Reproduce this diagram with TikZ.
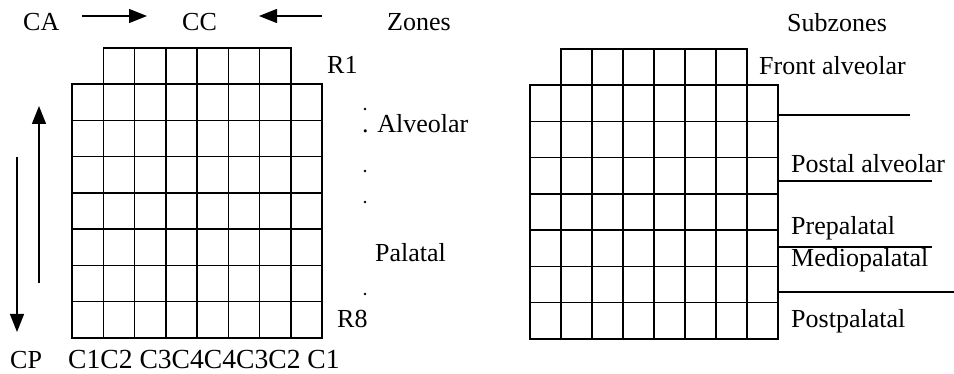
\documentclass[tikz,border=0pt]{standalone}
\usepackage{fontspec}
\setmainfont{Liberation Serif}
\usetikzlibrary{arrows.meta, positioning}

\begin{document}
\begin{tikzpicture}[
  x=1pt, y=-1pt,
  >={Triangle[length=18pt,width=14pt]},
  lbl/.style={font=\fontsize{26}{30}\selectfont, inner sep=0pt, anchor=base west},
  cell/.style={draw, line width=1.5pt},
  arr/.style={->, line width=1.4pt},
  zline/.style={draw, line width=1.5pt}
  ]
  \useasboundingbox (0,0) rectangle (954,374);
  % left grid
  \foreach \c in {1,...,6}
    \draw[cell] ({72+\c*31.25},48) rectangle ++(31.25,36.25);
  \foreach \r in {1,...,7}
    \foreach \c in {0,...,7}
      \draw[cell] ({72+\c*31.25},{48+\r*36.25}) rectangle ++(31.25,36.25);
  % right grid
  \foreach \c in {1,...,6}
    \draw[cell] ({530+\c*31},49) rectangle ++(31,36.25);
  \foreach \r in {1,...,7}
    \foreach \c in {0,...,7}
      \draw[cell] ({530+\c*31},{49+\r*36.25}) rectangle ++(31,36.25);
  % zones
  \node[lbl] (ca) at (23,31) {CA};
  \node[lbl] (cc) at (182,31) {CC};
  \node[lbl] (zones) at (387,31) {Zones};
  \node[lbl] (r1) at (327,74) {R1};
  \node[lbl] (alv) at (362,133) {. Alveolar};
  \node[lbl] (pal) at (375,262) {Palatal};
  \node[lbl] (r8) at (337,327) {R8};
  \node[lbl] (cp) at (10,368) {CP};
  \node[lbl, font=\fontsize{27.6}{32}\selectfont] (cols) at (68,368) {C1C2 C3C4C4C3C2 C1};
  \coordinate (d1) at (365,109);
  \coordinate (d2) at (365,171);
  \coordinate (d3) at (365,202);
  \coordinate (d4) at (365,294);
  \foreach \d in {d1,d2,d3,d4}
    \fill (\d) circle (1.4pt);
  \coordinate (caA) at (82,16);
  \coordinate (caB) at (147,16);
  \coordinate (ccA) at (322,16);
  \coordinate (ccB) at (259,16);
  \coordinate (upA) at (39,283);
  \coordinate (upB) at (39,106);
  \coordinate (dnA) at (17,157);
  \coordinate (dnB) at (17,332);
  \draw[arr] (caA) -- (caB);
  \draw[arr] (ccA) -- (ccB);
  \draw[arr] (upA) -- (upB);
  \draw[arr] (dnA) -- (dnB);
  % subzones
  \node[lbl] (subz) at (787,32) {Subzones};
  \node[lbl] (front) at (759,75) {Front alveolar};
  \node[lbl] (postal) at (791,173) {Postal alveolar};
  \node[lbl] (prepal) at (791,235) {Prepalatal};
  \node[lbl] (medio) at (791,267) {Mediopalatal};
  \node[lbl] (postpal) at (791,327) {Postpalatal};
  \coordinate (s1a) at (778,115);
  \coordinate (s1b) at (910,115);
  \coordinate (s2a) at (778,181);
  \coordinate (s2b) at (932,181);
  \coordinate (s3a) at (778,247);
  \coordinate (s3b) at (932,247);
  \coordinate (s4a) at (778,292);
  \coordinate (s4b) at (954,292);
  \draw[zline] (s1a) -- (s1b);
  \draw[zline] (s2a) -- (s2b);
  \draw[zline] (s3a) -- (s3b);
  \draw[zline] (s4a) -- (s4b);
\end{tikzpicture}
\end{document}
